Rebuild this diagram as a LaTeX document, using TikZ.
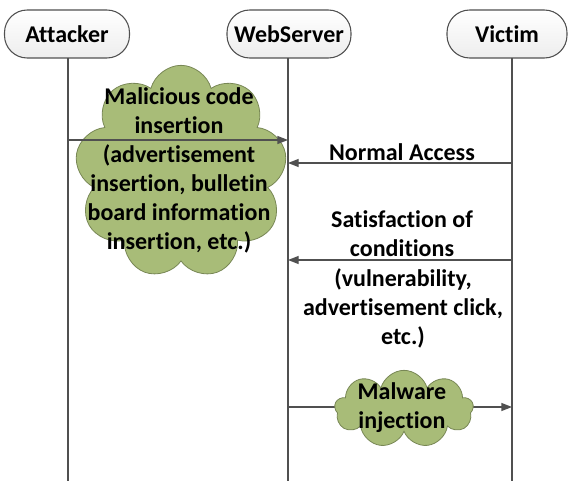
\documentclass[tikz,border=0pt]{standalone}
\usepackage{fontspec}
\setmainfont{Carlito}[Ligatures=NoCommon]
\usetikzlibrary{shapes.symbols,arrows.meta}
\definecolor{cloudfill}{RGB}{168,188,120}
\definecolor{cloudline}{RGB}{120,135,85}
\definecolor{lineclr}{RGB}{80,80,80}
\begin{document}
\begin{tikzpicture}[x=0.75pt,y=-0.75pt,
  txt/.style={font=\fontsize{18}{21.75}\selectfont\bfseries, align=center, inner sep=0pt},
  head/.style={draw=lineclr, line width=0.8pt, rounded corners=17pt, top color=white, bottom color=gray!14, minimum height=36pt, txt},
  life/.style={draw=lineclr, line width=1pt},
  msg/.style={draw=lineclr, line width=1pt, -{Triangle[length=8pt,width=6pt]}},
  puff/.style={cloud, cloud puffs=9, cloud ignores aspect, draw=cloudline, fill=cloudfill, line width=0.6pt, inner sep=0pt}]
\useasboundingbox (0,0) rectangle (568,481);
% headers
\node[head, minimum width=93.75pt] (att) at (67,34) {Attacker};
\node[head, minimum width=93pt] (web) at (289,34) {WebServer};
\node[head, minimum width=90pt] (vic) at (507,34) {Victim};
% lifelines
\coordinate (attT) at (68,58);  \coordinate (attB) at (68,481);
\coordinate (webT) at (288,58); \coordinate (webB) at (288,481);
\coordinate (vicT) at (512,58); \coordinate (vicB) at (512,481);
\draw[life] (attT) -- (attB);
\draw[life] (webT) -- (webB);
\draw[life] (vicT) -- (vicB);
% message end points
\coordinate (m1s) at (68,140);  \coordinate (m1e) at (288,140);
\coordinate (m2s) at (512,163); \coordinate (m2e) at (288,163);
\coordinate (m3s) at (512,260); \coordinate (m3e) at (288,260);
\coordinate (m4s) at (288,407); \coordinate (m4e) at (512,407);
% cloud 1
\node[puff, minimum width=159pt, minimum height=160pt] (c1) at (181,172) {};
\draw[msg] (m1s) -- (m1e);
\node[txt] (t1) at (179,170) {Malicious code\\insertion\\(advertisement\\insertion, bulletin\\board information\\insertion, etc.)};
% messages from victim
\draw[msg] (m2s) -- (m2e);
\node[txt] (t2) at (402,152) {Normal Access};
\draw[msg] (m3s) -- (m3e);
\node[txt] (t3) at (402,233.5) {Satisfaction of\\conditions};
\node[txt] (t4) at (403,308) {(vulnerability,\\advertisement click,\\etc.)};
% malware injection
\draw[msg] (m4s) -- (m4e);
\node[puff, minimum width=104pt, minimum height=58pt] (c2) at (404,409) {};
\node[txt] (t5) at (402,407.5) {Malware\\injection};
\end{tikzpicture}
\end{document}
